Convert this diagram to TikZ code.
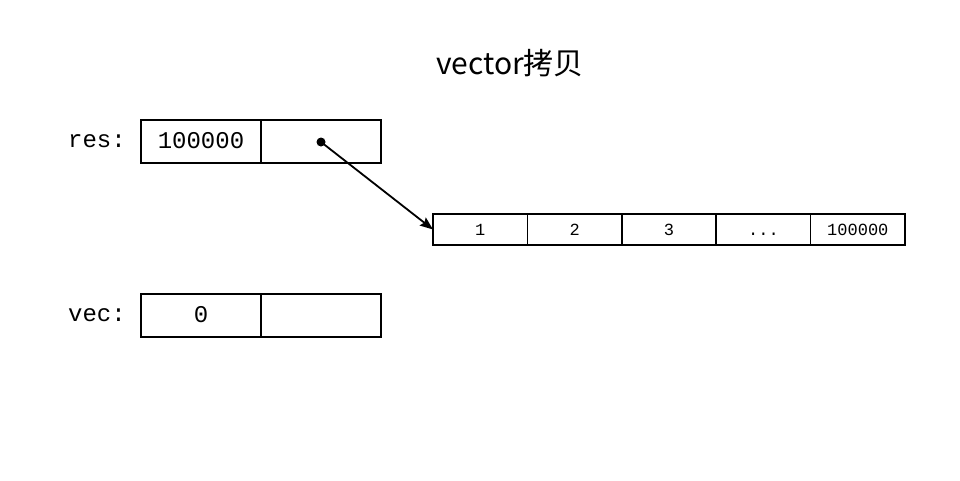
\documentclass[tikz,border=0pt]{standalone}
\usepackage{fontspec}
\setmonofont{Liberation Mono}
\newfontfamily\cjk{Noto Sans CJK SC}
\usetikzlibrary{arrows.meta}
\begin{document}
\begin{tikzpicture}[x=1pt,y=-1pt,
  cell/.style={draw,line width=1.6pt,minimum height=43pt,minimum width=120pt,inner sep=0pt,outer sep=0pt,text height=14pt,text depth=0pt,font=\ttfamily\fontsize{24}{24}\selectfont},
  acell/.style={draw,line width=1.6pt,minimum height=31pt,minimum width=94.4pt,inner sep=0pt,outer sep=0pt,text height=11.5pt,text depth=0pt,font=\ttfamily\fontsize{17}{17}\selectfont},
  lbl/.style={font=\ttfamily\fontsize{24}{24}\selectfont,anchor=base east,inner sep=0pt}]
\useasboundingbox (0,0) rectangle (960,480);
\node[font=\cjk\fontsize{30}{30}\selectfont] (title) at (510,63) {vector拷贝};
% res
\node[lbl] (reslbl) at (126,147.5) {res:};
\node[cell] (r1) at (201,141.5) {100000};
\node[cell] (r2) at (321,141.5) {};
% vec
\node[lbl] (veclbl) at (126,321.5) {vec:};
\node[cell] (v1) at (201,315.5) {0};
\node[cell] (v2) at (321,315.5) {};
% array
\node[acell] (a1) at (480.2,229.5) {1};
\node[acell] (a2) at (574.6,229.5) {2};
\node[acell] (a3) at (669,229.5) {3};
\node[acell] (a4) at (763.4,229.5) {...};
\node[acell] (a5) at (857.8,229.5) {100000};
% pointer
\coordinate (p) at (321,142);
\fill (p) circle (4.5pt);
\draw[line width=1.8pt,-{Stealth[length=13pt,width=10pt,inset=2pt]}] (p) -- (a1.west);
\end{tikzpicture}
\end{document}
